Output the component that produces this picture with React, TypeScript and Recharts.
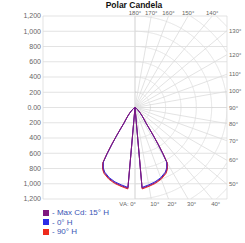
import React from 'react';
import {
  ScatterChart,
  Scatter,
  XAxis,
  YAxis,
  CartesianGrid,
  ReferenceLine,
} from 'recharts';

// vertical angles (deg) of the photometric readings
const angles = [0, 5, 10, 15, 20, 25, 27.5, 30, 31, 32, 33, 34, 35, 37.5, 40, 42.5, 45, 50, 55, 60, 70, 80, 90];

// candela values per plane
const maxCd15H = [0, 1062, 1040, 1020, 990, 945, 905, 835, 710, 570, 440, 330, 255, 190, 145, 110, 82, 45, 25, 12, 4, 0, 0];
const cd0H = [0, 1052, 1030, 1010, 980, 935, 895, 825, 700, 560, 432, 325, 250, 186, 142, 106, 78, 42, 23, 10, 3, 0, 0];
const cd90H = [0, 1072, 1050, 1030, 1000, 955, 915, 845, 720, 580, 450, 338, 260, 194, 148, 112, 84, 46, 26, 12, 4, 0, 0];

// axis ticks
const yTicks = [-1200, -1000, -800, -600, -400, -200, 0, 200, 400, 600, 800, 1000, 1200];
const bottomAngles = [0, 10, 20, 30, 40];
const topAngles = [180, 170, 160, 150, 140];
const rightAngles = [130, 120, 110, 100, 90, 80, 70, 60, 50];
const ringRadii = [200, 400, 600, 800, 1000, 1200, 1400, 1600];
const spokeAngles = [0, 10, 20, 30, 40, 50, 60, 70, 80, 90, 100, 110, 120, 130, 140, 150, 160, 170, 180];

const MAX = 1200;
const rad = (d: number) => (d * Math.PI) / 180;
const GRID = '#dcdcdc';

// polar -> cartesian, VA 0 points down
const toXY = (deg: number, r: number, side: number) => ({
  x: side * r * Math.sin(rad(deg)),
  y: -r * Math.cos(rad(deg)),
});

const buildCurve = (vals: number[]) => {
  const left = angles.map((a, i) => toXY(a, vals[i], -1)).reverse();
  const right = angles.map((a, i) => toXY(a, vals[i], 1));
  return [...left, ...right];
};

const ringSegments = () => {
  const segs: { x: number; y: number }[][] = [];
  ringRadii.forEach((r) => {
    let cur: { x: number; y: number }[] = [];
    for (let d = 0; d <= 180; d += 0.25) {
      const p = toXY(d, r, 1);
      if (p.x <= MAX + 0.01 && Math.abs(p.y) <= MAX + 0.01) {
        cur.push(p);
      } else if (cur.length) {
        segs.push(cur);
        cur = [];
      }
    }
    if (cur.length) segs.push(cur);
  });
  return segs;
};

const spokeEnd = (deg: number) => {
  const s = Math.sin(rad(deg));
  const c = Math.cos(rad(deg));
  const t = Math.min(s > 1e-9 ? MAX / s : Infinity, Math.abs(c) > 1e-9 ? MAX / Math.abs(c) : Infinity);
  const x = Math.min(MAX, t * s);
  const y = Math.max(-MAX, Math.min(MAX, -t * c));
  return { x, y };
};

const bottomTickVals = bottomAngles.map((a) => MAX * Math.tan(rad(a)));
const topTickVals = topAngles.map((a) => MAX * Math.tan(rad(180 - a)));
const rightTickVals = rightAngles.map((a) => (-MAX * Math.cos(rad(a))) / Math.sin(rad(a)));

const fmtY = (v: number) => (v === 0 ? '0.00' : Math.abs(v).toLocaleString('en-US'));

const Empty = () => <g />;

const BottomTick = (props: any) => {
  const { x, y, index } = props;
  const label = bottomAngles[index] + '°';
  if (index === 0) {
    return (
      <text x={x + 1} y={y} dy="0.71em" textAnchor="end" fontSize={6} fill="#666">
        VA: {label}
      </text>
    );
  }
  return (
    <text x={x - 1} y={y} dy="0.71em" textAnchor="start" fontSize={6} fill="#666">
      {label}
    </text>
  );
};

const legendItems = [
  { name: '- Max Cd: 15° H', color: '#80187f' },
  { name: '- 0° H', color: '#2b2be6' },
  { name: '- 90° H', color: '#ee2a1c' },
];

export default function App() {
  const rings = ringSegments();
  const font = 'Liberation Sans, Arial, sans-serif';
  return (
    <div style={{ position: 'absolute', left: 0, top: 0, width: 245, height: 243, fontFamily: font, background: '#fff' }}>
      <div
        style={{
          position: 'absolute',
          top: 0,
          left: 0,
          width: 268,
          textAlign: 'center',
          fontSize: 8.5,
          fontWeight: 'bold',
          lineHeight: '10px',
          color: '#111',
        }}
      >
        Polar Candela
      </div>
      <ScatterChart width={245} height={243} margin={{ top: 0, right: 0, bottom: 32, left: 0 }} style={{ fontFamily: font }}>
        <CartesianGrid horizontal vertical={false} stroke={GRID} strokeWidth={0.8} />
        <XAxis
          type="number"
          dataKey="x"
          domain={[-MAX, MAX]}
          allowDataOverflow
          ticks={bottomTickVals}
          interval={0}
          height={12}
          axisLine={false}
          tickLine={false}
          tickSize={0}
          tickMargin={3}
          tick={<BottomTick />}
        />
        <XAxis
          xAxisId="top"
          orientation="top"
          type="number"
          dataKey="x"
          domain={[-MAX, MAX]}
          allowDataOverflow
          ticks={topTickVals}
          interval={0}
          height={16}
          axisLine={false}
          tickLine={false}
          tickSize={0}
          tickMargin={1}
          tickFormatter={(_v: number, i: number) => topAngles[i] + '°'}
          tick={{ fontSize: 6, fill: '#666' }}
        />
        <YAxis
          type="number"
          dataKey="y"
          domain={[-MAX, MAX]}
          allowDataOverflow
          ticks={yTicks}
          interval={0}
          width={43}
          axisLine={false}
          tickLine={false}
          tickSize={0}
          tickMargin={2}
          tickFormatter={fmtY}
          tick={{ fontSize: 7, fill: '#666' }}
        />
        <YAxis
          yAxisId="right"
          orientation="right"
          type="number"
          dataKey="y"
          domain={[-MAX, MAX]}
          allowDataOverflow
          ticks={rightTickVals}
          interval={0}
          width={18}
          axisLine={false}
          tickLine={false}
          tickSize={0}
          tickMargin={2}
          tickFormatter={(_v: number, i: number) => rightAngles[i] + '°'}
          tick={{ fontSize: 6, fill: '#666' }}
        />
        <ReferenceLine x={-MAX} stroke={GRID} strokeWidth={0.8} />
        <ReferenceLine x={0} stroke={GRID} strokeWidth={0.8} />
        <ReferenceLine x={MAX} stroke={GRID} strokeWidth={0.8} />
        {spokeAngles.map((a) => (
          <ReferenceLine
            key={'sp' + a}
            segment={[{ x: 0, y: 0 }, spokeEnd(a)]}
            stroke={GRID}
            strokeWidth={0.8}
            ifOverflow="visible"
          />
        ))}
        {rings.map((seg, i) => (
          <Scatter
            key={'ring' + i}
            data={seg}
            line={{ stroke: GRID, strokeWidth: 0.8 }}
            shape={<Empty />}
            isAnimationActive={false}
          />
        ))}
        <Scatter data={buildCurve(cd90H)} line={{ stroke: '#ee2a1c', strokeWidth: 1 }} shape={<Empty />} isAnimationActive={false} />
        <Scatter data={buildCurve(cd0H)} line={{ stroke: '#2b2be6', strokeWidth: 1 }} shape={<Empty />} isAnimationActive={false} />
        <Scatter data={buildCurve(maxCd15H)} line={{ stroke: '#80187f', strokeWidth: 1 }} shape={<Empty />} isAnimationActive={false} />
      </ScatterChart>
      <div style={{ position: 'absolute', left: 43, top: 208 }}>
        {legendItems.map((it) => (
          <div key={it.name} style={{ display: 'flex', alignItems: 'center', height: 9.5 }}>
            <span style={{ width: 6, height: 6, background: it.color, display: 'inline-block', marginRight: 3 }} />
            <span style={{ fontSize: 8, color: '#3a55b5', whiteSpace: 'nowrap' }}>{it.name}</span>
          </div>
        ))}
      </div>
    </div>
  );
}
